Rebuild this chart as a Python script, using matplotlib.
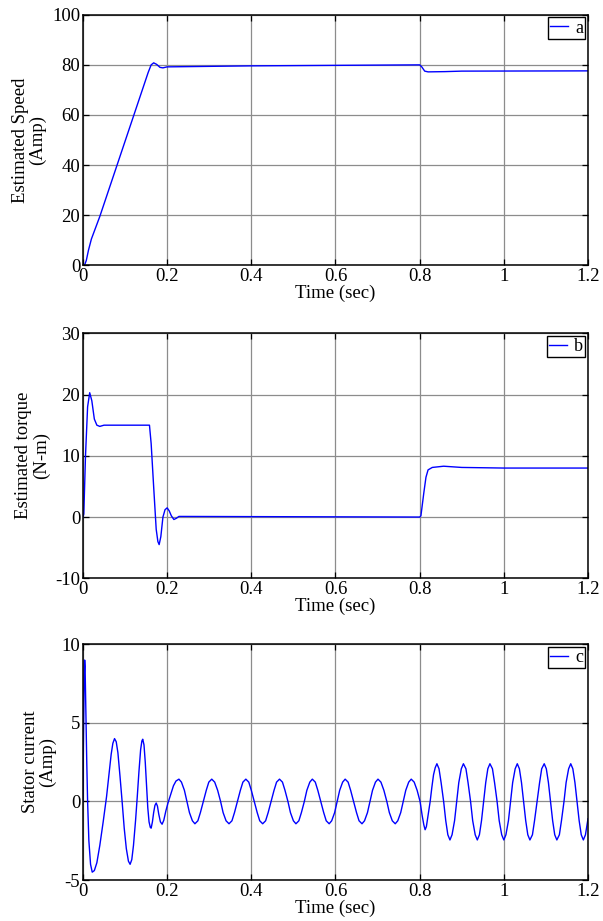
import matplotlib.pyplot as plt

plt.rcParams['font.family'] = ['Liberation Serif', 'DejaVu Serif']
plt.rcParams['font.size'] = 13.5
plt.rcParams['axes.unicode_minus'] = False

# Estimated speed
t_speed = [0.0, 0.004, 0.008, 0.013, 0.02, 0.04, 0.08, 0.12, 0.155, 0.162, 0.168,
           0.175, 0.183, 0.19, 0.2, 0.25, 0.4, 0.6, 0.8, 0.805, 0.812, 0.82,
           0.86, 0.9, 1.2]
speed = [0.0, 0.2, 2.0, 6.0, 10.5, 19.5, 39.5, 59.5, 77.0, 80.0, 80.8,
         80.2, 79.0, 78.8, 79.2, 79.3, 79.6, 79.8, 80.0, 79.2, 77.5, 77.2,
         77.3, 77.5, 77.6]

# Estimated torque
t_torque = [0.0, 0.002, 0.006, 0.011, 0.016, 0.021, 0.027, 0.033, 0.04, 0.05,
            0.158, 0.162, 0.168, 0.174, 0.178, 0.181, 0.185, 0.19, 0.195, 0.2,
            0.205, 0.21, 0.216, 0.222, 0.228, 0.8, 0.803, 0.81, 0.815, 0.82,
            0.83, 0.857, 0.9, 1.0, 1.2]
torque = [0.0, 0.5, 10.0, 18.0, 20.3, 19.0, 16.0, 15.0, 14.8, 15.0,
          15.0, 12.0, 4.9, -2.0, -4.0, -4.5, -3.2, 0.0, 1.2, 1.5,
          1.0, 0.2, -0.4, -0.2, 0.1, 0.0, 0.2, 4.0, 6.5, 7.7,
          8.1, 8.3, 8.1, 8.0, 8.0]

# Stator current, (time, amp) samples
current_samples = [
    # start-up transient
    (0.000, 0.0), (0.001, 3.5), (0.003, 8.0), (0.004, 9.0), (0.005, 8.6),
    (0.007, 5.5), (0.009, 2.5), (0.011, 0.0), (0.014, -2.5), (0.018, -4.0),
    (0.022, -4.5), (0.027, -4.4), (0.033, -3.9), (0.040, -2.8), (0.048, -1.3),
    (0.056, 0.3), (0.062, 1.8), (0.067, 3.0), (0.071, 3.7), (0.075, 4.0),
    (0.079, 3.8), (0.083, 3.1), (0.088, 1.6), (0.093, 0.0), (0.098, -1.7),
    (0.103, -3.0), (0.108, -3.8), (0.112, -4.0), (0.116, -3.7), (0.120, -2.8),
    (0.125, -1.2), (0.129, 0.3), (0.133, 1.9), (0.137, 3.3), (0.140, 3.85),
    (0.142, 3.96), (0.145, 3.6), (0.148, 2.5), (0.151, 1.0), (0.154, -0.4),
    (0.157, -1.3), (0.160, -1.65), (0.162, -1.7), (0.165, -1.3), (0.168, -0.7),
    (0.171, -0.25), (0.174, -0.1), (0.177, -0.3), (0.180, -0.8), (0.184, -1.3),
    (0.188, -1.45), (0.192, -1.2), (0.197, -0.6), (0.202, -0.1), (0.208, 0.4),
    (0.215, 1.0), (0.221, 1.3),
    # no-load steady state
    (0.228, 1.42), (0.234, 1.23), (0.241, 0.71), (0.247, 0.0), (0.253, -0.71), (0.260, -1.23),
    (0.266, -1.42), (0.273, -1.23), (0.279, -0.71), (0.286, 0.0), (0.293, 0.71), (0.299, 1.23),
    (0.306, 1.42), (0.313, 1.23), (0.320, 0.71), (0.327, 0.0), (0.333, -0.71), (0.340, -1.23),
    (0.347, -1.42), (0.354, -1.23), (0.360, -0.71), (0.367, 0.0), (0.374, 0.71), (0.380, 1.23),
    (0.387, 1.42), (0.394, 1.23), (0.400, 0.71), (0.407, 0.0), (0.414, -0.71), (0.420, -1.23),
    (0.427, -1.42), (0.434, -1.23), (0.440, -0.71), (0.447, 0.0), (0.454, 0.71), (0.460, 1.23),
    (0.467, 1.42), (0.474, 1.23), (0.480, 0.71), (0.487, 0.0), (0.493, -0.71), (0.500, -1.23),
    (0.506, -1.42), (0.513, -1.23), (0.519, -0.71), (0.526, 0.0), (0.532, 0.71), (0.539, 1.23),
    (0.545, 1.42), (0.552, 1.23), (0.558, 0.71), (0.565, 0.0), (0.572, -0.71), (0.578, -1.23),
    (0.585, -1.42), (0.591, -1.23), (0.598, -0.71), (0.604, 0.0), (0.610, 0.71), (0.617, 1.23),
    (0.623, 1.42), (0.630, 1.23), (0.636, 0.71), (0.643, 0.0), (0.650, -0.71), (0.656, -1.23),
    (0.663, -1.42), (0.669, -1.23), (0.676, -0.71), (0.682, 0.0), (0.688, 0.71), (0.695, 1.23),
    (0.701, 1.42), (0.708, 1.23), (0.715, 0.71), (0.722, 0.0), (0.728, -0.71), (0.735, -1.23),
    (0.742, -1.42), (0.748, -1.23), (0.755, -0.71), (0.761, 0.0), (0.767, 0.71), (0.774, 1.23),
    (0.780, 1.42), (0.787, 1.23), (0.794, 0.71),
    # load step
    (0.801, 0.0), (0.806, -0.9), (0.810, -1.5), (0.813, -1.8), (0.816, -1.6),
    (0.820, -0.9), (0.825, 0.0), (0.829, 0.9), (0.833, 1.7), (0.837, 2.15),
    # loaded steady state
    (0.841, 2.4), (0.846, 2.08), (0.851, 1.2), (0.857, 0.0), (0.862, -1.22), (0.867, -2.12),
    (0.872, -2.45), (0.877, -2.12), (0.883, -1.22), (0.888, 0.0), (0.893, 1.2), (0.899, 2.08),
    (0.904, 2.4), (0.910, 2.08), (0.915, 1.2), (0.921, 0.0), (0.926, -1.22), (0.932, -2.12),
    (0.937, -2.45), (0.942, -2.12), (0.947, -1.22), (0.952, 0.0), (0.957, 1.2), (0.962, 2.08),
    (0.967, 2.4), (0.973, 2.08), (0.978, 1.2), (0.984, 0.0), (0.989, -1.22), (0.995, -2.12),
    (1.000, -2.45), (1.005, -2.12), (1.011, -1.22), (1.016, 0.0), (1.021, 1.2), (1.027, 2.08),
    (1.032, 2.4), (1.037, 2.08), (1.042, 1.2), (1.047, 0.0), (1.052, -1.22), (1.057, -2.12),
    (1.062, -2.45), (1.068, -2.12), (1.073, -1.22), (1.079, 0.0), (1.085, 1.2), (1.090, 2.08),
    (1.096, 2.4), (1.101, 2.08), (1.106, 1.2), (1.111, 0.0), (1.116, -1.22), (1.121, -2.12),
    (1.126, -2.45), (1.132, -2.12), (1.137, -1.22), (1.143, 0.0), (1.148, 1.2), (1.154, 2.08),
    (1.159, 2.4), (1.164, 2.08), (1.169, 1.2), (1.174, 0.0), (1.179, -1.22), (1.184, -2.12),
    (1.189, -2.45), (1.194, -2.12), (1.200, -1.1),
]
t_current = [s[0] for s in current_samples]
current = [s[1] for s in current_samples]

panels = [
    (t_speed, speed, 'a', 'Estimated Speed\n(Amp)', (0, 100), [0, 20, 40, 60, 80, 100],
     [0.1376, 0.7119, 0.8375, 0.2721]),
    (t_torque, torque, 'b', 'Estimated torque\n(N-m)', (-10, 30), [-10, 0, 10, 20, 30],
     [0.1376, 0.3721, 0.8375, 0.2660]),
    (t_current, current, 'c', 'Stator current\n(Amp)', (-5, 10), [-5, 0, 5, 10],
     [0.1376, 0.0445, 0.8375, 0.2559]),
]

xticks = [0, 0.2, 0.4, 0.6, 0.8, 1.0, 1.2]
xticklabels = ['0', '0.2', '0.4', '0.6', '0.8', '1', '1.2']

fig = plt.figure(figsize=(6.03, 9.21), dpi=100)

for t, y, name, ylabel, ylim, yticks, rect in panels:
    ax = fig.add_axes(rect)
    ax.plot(t, y, color='#0000ff', linewidth=1.0, label=name)
    ax.set_xlim(0, 1.2)
    ax.set_ylim(*ylim)
    ax.set_xticks(xticks)
    ax.set_xticklabels(xticklabels)
    ax.set_yticks(yticks)
    ax.grid(True, color='#8c8c8c', linewidth=0.9)
    ax.set_axisbelow(True)
    ax.tick_params(direction='in', top=True, right=True, length=4, width=0.9, pad=2)
    for sp in ax.spines.values():
        sp.set_linewidth(1.1)
    ax.set_xlabel('Time (sec)', labelpad=0)
    ax.set_ylabel(ylabel, linespacing=1.0, labelpad=4)
    leg = ax.legend(loc='upper right', fontsize=13, handlelength=1.0,
                    handletextpad=0.4, borderpad=0.12, borderaxespad=0.15,
                    fancybox=False, framealpha=1, edgecolor='black')
    leg.get_frame().set_linewidth(1.0)

fig.savefig('out.png', dpi=100)
